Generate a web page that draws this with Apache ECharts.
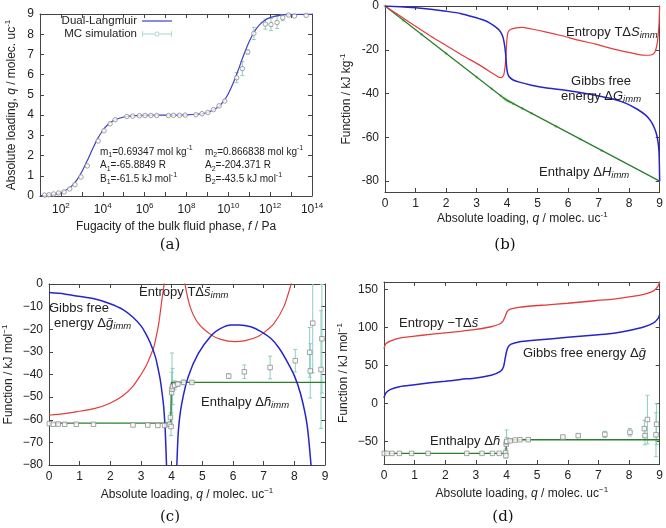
<!DOCTYPE html>
<html>
<head>
<meta charset="utf-8">
<script src="https://cdn.jsdelivr.net/npm/echarts@6/dist/echarts.min.js"></script>
<style>
html, body { margin: 0; padding: 0; background: #fff; }
#chart { width: 666px; height: 528px; }
</style>
</head>
<body>
<div id="chart"></div>
<script>
// ---- (a) isotherm: log10(f) and loading q ----
const aCurveExp = [1, 1.5, 2, 2.5, 2.75, 3, 3.25, 3.5, 3.75, 4, 4.25, 4.5, 5, 5.5, 6, 7, 8, 8.5, 9, 9.5, 9.75, 10, 10.25, 10.5, 10.75, 11, 11.25, 11.5, 11.75, 12, 12.5, 13, 14];
const aCurveQ = [0.017, 0.053, 0.164, 0.475, 0.774, 1.196, 1.726, 2.297, 2.823, 3.24, 3.535, 3.724, 3.908, 3.97, 3.991, 3.999, 4.013, 4.042, 4.131, 4.392, 4.657, 5.06, 5.62, 6.3, 7.01, 7.645, 8.136, 8.474, 8.69, 8.82, 8.942, 8.981, 8.998];
const aSimExp = [1.22, 1.43, 1.65, 1.89, 2.15, 2.42, 2.67, 2.96, 3.26, 3.78, 4.06, 4.35, 4.59, 5.15, 5.43, 5.75, 6.02, 6.3, 6.58, 7.14, 7.38, 7.67, 7.94, 8.45, 8.74, 9.02, 9.29, 9.56, 9.83, 10.4, 10.67, 10.93, 11.22, 11.77, 12.04, 12.33, 12.6, 12.88, 13.16, 13.72, 13.97];
const aSimQ = [0.045, 0.06, 0.1, 0.15, 0.2, 0.35, 0.56, 0.94, 1.49, 2.72, 3.23, 3.57, 3.77, 3.93, 3.95, 3.97, 3.98, 3.98, 3.98, 3.98, 3.99, 3.99, 4.0, 4.02, 4.07, 4.13, 4.27, 4.46, 4.7, 5.85, 6.3, 7.12, 8.04, 8.5, 8.48, 8.58, 8.82, 8.95, 8.9, 8.93, 9.08];
const aSimErr = [0, 0, 0, 0, 0, 0, 0, 0, 0, 0, 0, 0, 0, 0, 0, 0, 0, 0, 0, 0, 0, 0, 0, 0, 0, 0, 0, 0, 0, 0.25, 0.35, 0.1, 0.3, 0.25, 0.3, 0.3, 0.15, 0.05, 0, 0, 0];
const aXLabels = [1e2, 1e4, 1e6, 1e8, 1e10, 1e12, 1e14];
const aXTicks = [1e1, 1e2, 1e3, 1e4, 1e5, 1e6, 1e7, 1e8, 1e9, 1e10, 1e11, 1e12, 1e13, 1e14];

// ---- (b) integral functions, kJ/kg ----
const bGQ = [0, 0.5, 1, 1.5, 2, 2.5, 2.9, 3.2, 3.41, 3.6, 3.74, 3.83, 3.88, 3.93, 3.96, 3.98, 4.0, 4.03, 4.08, 4.2, 4.4, 4.8, 5.25, 5.8, 6.34, 6.9, 7.41, 7.9, 8.28, 8.55, 8.71, 8.82, 8.9, 8.95, 8.98, 9.0];
const bG = [0, -0.3, -0.8, -1.5, -2.4, -3.5, -5, -6.3, -7.6, -9.3, -11, -13, -15, -19, -23, -27, -29.5, -31.3, -32.5, -33.8, -34.8, -36.2, -37.4, -38.3, -39.4, -40.8, -42.3, -44.5, -47.3, -50, -52.6, -55.5, -58.7, -62.5, -67, -80];
const bSQ = [0, 0.5, 1, 1.5, 2, 2.5, 3.09, 3.52, 3.7, 3.79, 3.85, 3.9, 3.94, 3.97, 4.0, 4.04, 4.12, 4.3, 4.49, 4.8, 5.25, 5.8, 6.33, 6.9, 7.41, 7.9, 8.28, 8.55, 8.71, 8.82, 8.87, 8.92, 8.95, 8.98, 9.0];
const bS = [0, -4.6, -9.3, -13.8, -18, -22.3, -26.9, -30.7, -32.3, -32.7, -32.4, -31, -27, -20.9, -14.5, -11.8, -10.6, -10, -9.8, -10.5, -11.8, -13.6, -15.6, -17.4, -19.4, -21, -22.1, -22.5, -22.4, -21.5, -20.1, -17, -13.3, -8, 0];
const bHQ = [0, 3.95, 4.05, 9];
const bH = [0, -42.7, -43.5, -80];
const bMarkQ = [0, 0.6, 1.2, 2.0, 3.0, 3.5, 3.8, 3.9, 3.95, 4.0, 4.05, 4.1, 4.2, 4.5, 4.8, 5.6, 6.4, 7.1];
const bMarkH = [0, -6.5, -13, -21.6, -32.4, -37.8, -41, -42.1, -42.6, -43.2, -43.5, -43.9, -44.6, -46.8, -49, -54.9, -60.8, -66];
const bYLabels = [0, -20, -40, -60, -80];

// ---- (c) partial molar functions ----
const cG1Q = [0, 0.5, 0.89, 1.5, 1.97, 2.4, 2.72, 3.0, 3.15, 3.3, 3.47, 3.55, 3.63, 3.7, 3.74, 3.79, 3.83, 3.86];
const cG1 = [-3.8, -4.4, -5.3, -6.6, -8.6, -11.2, -14.5, -18.5, -21.8, -26, -32.2, -37, -42.5, -49.5, -54.3, -64.6, -79.4, -90];
const cG2Q = [4.14, 4.17, 4.22, 4.33, 4.54, 4.87, 5.3, 5.6, 5.94, 6.2, 6.58, 6.9, 7.23, 7.5, 7.77, 8.0, 8.2, 8.41, 8.54, 8.58];
const cG2 = [-90, -79.4, -64.6, -52.8, -41, -30.7, -22.6, -19.6, -18.1, -18.1, -18.9, -20.9, -24, -28.3, -34.4, -40.5, -48.4, -61.7, -79.4, -90];
const cS1Q = [0, 0.5, 0.89, 1.5, 1.97, 2.4, 2.72, 3.0, 3.15, 3.3, 3.42, 3.5, 3.58, 3.68, 3.76, 3.8];
const cS1 = [-58, -57.3, -56.5, -55, -52.8, -49.5, -45.5, -40, -36.6, -32, -27.8, -23, -17.4, -7.1, 0.3, 5];
const cS2Q = [4.4, 4.43, 4.6, 4.87, 5.3, 5.6, 6.05, 6.4, 6.8, 7.1, 7.34, 7.66, 7.87, 7.95];
const cS2 = [5, 0.3, -10, -17.4, -22.6, -24.5, -25.5, -25, -23.3, -20.5, -17.4, -10, -1.2, 3];
const cHQ = [0, 3.97, 3.99, 9];
const cH = [-61.5, -61.5, -43.5, -43.5];
const cPtQ = [0.01, 0.14, 0.3, 0.51, 0.89, 1.45, 2.74, 3.22, 3.55, 3.77, 3.93, 3.96, 3.98, 4.0, 4.01, 4.03, 4.1, 4.2, 4.39, 4.66, 5.86, 6.37, 7.21, 8.03, 8.5, 8.52, 8.6, 8.87, 8.9];
const cPtV = [-61.7, -62, -61.9, -62, -62, -62, -62.3, -62.3, -62.5, -62.5, -62, -59, -63, -48, -46.5, -45.3, -44.8, -44.2, -43.5, -43.5, -40.7, -38.8, -36.9, -33.9, -30.2, -38.4, -17.3, -37.8, -24.2];
const cPtErr = [0, 0, 0, 0, 0, 0, 0, 0, 0, 0, 1, 2, 4, 9, 16, 8, 2, 1, 1, 0.5, 1, 3, 5, 5, 11, 12, 22, 26, 24];

// ---- (d) partial molar functions ----
const dGQ = [0, 0.05, 0.2, 0.5, 1, 1.5, 2, 2.5, 3, 3.5, 3.8, 3.9, 3.95, 4.0, 4.05, 4.15, 4.4, 5, 6, 7, 7.5, 8, 8.5, 8.8, 8.95, 9];
const dG = [7, 13, 18, 22, 24.5, 27, 29, 31.5, 33.5, 37, 42, 48, 58, 68, 74, 78, 81, 83.5, 87, 90.5, 92.5, 96, 101, 106, 112, 117];
const dSQ = [0, 0.05, 0.2, 0.5, 1, 1.5, 2, 2.5, 3, 3.5, 3.76, 3.88, 3.95, 4.02, 4.1, 4.4, 5, 5.26, 6, 6.88, 7.5, 8.28, 8.6, 8.82, 8.95, 9];
const dS = [72, 78, 82, 86, 88.5, 91, 93, 95, 97.5, 101, 104.3, 108, 114, 121, 124, 126.5, 129, 129.6, 132, 135.3, 137.5, 142, 145, 148.7, 155, 160];
const dHQ = [0, 3.98, 4.0, 9];
const dH = [-66, -66, -48, -48];
const dPtQ = [0.01, 0.1, 0.26, 0.5, 0.9, 1.44, 2.7, 3.2, 3.54, 3.76, 3.97, 3.98, 3.99, 4.0, 4.01, 4.12, 4.28, 4.44, 4.71, 5.84, 6.34, 7.21, 8.03, 8.5, 8.52, 8.6, 8.88, 8.9];
const dPtV = [-66, -66, -66, -66, -66, -66, -66, -66, -66, -66, -65, -69, -54, -51, -50, -49.3, -48.4, -48, -48, -44.4, -42.6, -40.9, -38.2, -33.3, -42.6, -21.4, -41.4, -27.6];
const dPtErr = [0, 0, 0, 0, 0, 0, 0, 0, 0, 0, 2, 3, 6, 16, 5, 1, 0.5, 0.5, 0.5, 1, 2, 4, 5, 11, 12, 32, 29, 27];
const dYLabels = [-50, 0, 50, 100, 150];

const FONT = 'Liberation Sans, Arial, sans-serif';
const AXIS_COLOR = '#444';
const TEXT_COLOR = '#222';
const BLUE = '#2525c8';
const RED = '#e23c3c';
const GREEN = '#2b7f2b';
const ERR = '#8ccfc2';

const NAME_RICH = {
  i: { fontStyle: 'italic', fontSize: 12, fontFamily: FONT, color: TEXT_COLOR },
  sup: { fontSize: 8, fontFamily: FONT, color: TEXT_COLOR, lineHeight: 9, verticalAlign: 'top' }
};
const zip = (xs, ys) => xs.map((x, i) => [x, ys[i]]);
const zip3 = (xs, ys, es) => xs.map((x, i) => [x, ys[i], es[i]]);
const minus = v => String(v).replace('-', '\u2212');

function mainAxis(grid, pos, cfg) {
  return {
    gridIndex: grid, position: pos, type: cfg.type || 'value',
    min: cfg.min, max: cfg.max, interval: cfg.interval, logBase: cfg.logBase,
    name: cfg.name, nameLocation: 'middle', nameGap: cfg.nameGap,
    nameTextStyle: { fontSize: 12, fontFamily: FONT, color: TEXT_COLOR, lineHeight: 16, rich: NAME_RICH },
    axisLine: { show: true, onZero: false, lineStyle: { color: AXIS_COLOR, width: 1 } },
    axisTick: Object.assign({ show: true, inside: true, length: 4, lineStyle: { color: AXIS_COLOR } }, cfg.tick),
    axisLabel: Object.assign({ show: true, color: TEXT_COLOR, fontSize: 12, fontFamily: FONT, margin: 6 }, cfg.label),
    splitLine: { show: false }
  };
}
function mirrorAxis(grid, pos, cfg) {
  return {
    gridIndex: grid, position: pos, type: cfg.type || 'value',
    min: cfg.min, max: cfg.max, interval: cfg.interval, logBase: cfg.logBase,
    axisLine: { show: true, onZero: false, lineStyle: { color: AXIS_COLOR, width: 1 } },
    axisTick: Object.assign({ show: true, inside: true, length: 4, lineStyle: { color: AXIS_COLOR } }, cfg.tick),
    axisLabel: { show: false },
    splitLine: { show: false }
  };
}

const loadingName = 'Absolute loading, {i|q} / molec. uc{sup|-1}';
const loadingName2 = 'Absolute loading, {i|q} / molec. uc{sup|\u22121}';

const ax = {
  a: { type: 'log', logBase: 10, min: 1e1, max: 1e14, name: 'Fugacity of the bulk fluid phase, {i|f} / Pa', nameGap: 19,
       label: { customValues: aXLabels, formatter: v => '10{s|' + Math.round(Math.log10(v)) + '}',
                rich: { s: { fontSize: 8, fontFamily: FONT, color: TEXT_COLOR, lineHeight: 9, verticalAlign: 'top' } }, lineHeight: 16 },
       tick: { customValues: aXTicks } },
  ay: { min: 0, max: 9, interval: 1, name: 'Absolute loading, {i|q} / molec. uc{sup|-1}', nameGap: 20 },
  b: { min: 0, max: 9, interval: 1, name: loadingName, nameGap: 11 },
  by: { min: -85, max: 0, name: 'Function / kJ kg{sup|-1}', nameGap: 30,
        label: { customValues: bYLabels }, tick: { customValues: bYLabels } },
  c: { min: 0, max: 9, interval: 1, name: loadingName2, nameGap: 22 },
  cy: { min: -80, max: 0, interval: 10, name: 'Function / kJ mol{sup|\u22121}', nameGap: 32, label: { formatter: minus } },
  d: { min: 0, max: 9, interval: 1, name: loadingName2, nameGap: 22 },
  dy: { min: -80, max: 160, name: 'Function / kJ mol{sup|\u22121}', nameGap: 32,
        label: { customValues: dYLabels, formatter: minus }, tick: { customValues: dYLabels } }
};

const xAxes = [
  mainAxis(0, 'bottom', ax.a), mirrorAxis(0, 'top', ax.a),
  mainAxis(1, 'bottom', ax.b), mirrorAxis(1, 'top', ax.b),
  mainAxis(2, 'bottom', ax.c), mirrorAxis(2, 'top', ax.c),
  mainAxis(3, 'bottom', ax.d), mirrorAxis(3, 'top', ax.d)
];
const yAxes = [
  mainAxis(0, 'left', ax.ay), mirrorAxis(0, 'right', ax.ay),
  mainAxis(1, 'left', ax.by), mirrorAxis(1, 'right', ax.by),
  mainAxis(2, 'left', ax.cy), mirrorAxis(2, 'right', ax.cy),
  mainAxis(3, 'left', ax.dy), mirrorAxis(3, 'right', ax.dy)
];

function errorBars(params, api) {
  const e = api.value(2);
  if (!e) return null;
  const x = api.value(0), y = api.value(1);
  const p1 = api.coord([x, y + e]);
  const p2 = api.coord([x, y - e]);
  const style = { stroke: api.visual('color'), lineWidth: 1 };
  return {
    type: 'group',
    children: [
      { type: 'line', shape: { x1: p1[0], y1: p1[1], x2: p2[0], y2: p2[1] }, style },
      { type: 'line', shape: { x1: p1[0] - 2, y1: p1[1], x2: p1[0] + 2, y2: p1[1] }, style },
      { type: 'line', shape: { x1: p2[0] - 2, y1: p2[1], x2: p2[0] + 2, y2: p2[1] }, style }
    ]
  };
}

function curve(panel, data, color, width, smooth) {
  return {
    type: 'line', xAxisIndex: panel * 2, yAxisIndex: panel * 2, data,
    showSymbol: false, symbol: 'none', smooth: smooth === undefined ? 0.25 : smooth,
    lineStyle: { color, width }, itemStyle: { color },
    silent: true, z: 3
  };
}
function errSeries(panel, data) {
  return {
    type: 'custom', xAxisIndex: panel * 2, yAxisIndex: panel * 2, data,
    renderItem: errorBars, encode: { x: 0, y: 1 }, clip: true,
    itemStyle: { color: ERR }, silent: true, z: 2
  };
}
function pointSeries(panel, data, symbol, size, name) {
  return {
    type: 'scatter', name, xAxisIndex: panel * 2, yAxisIndex: panel * 2, data,
    symbol, symbolSize: size,
    itemStyle: { color: '#fff', borderColor: '#8c8c8c', borderWidth: 1 },
    silent: true, z: 4
  };
}

const aCurveData = aCurveExp.map((e, i) => [Math.pow(10, e), aCurveQ[i]]);
const aSimData = aSimExp.map((e, i) => [Math.pow(10, e), aSimQ[i], aSimErr[i]]);

const series = [
  Object.assign(curve(0, aCurveData, '#3f3fc6', 1.2, 0.35), { name: 'Dual-Langmuir' }),
  errSeries(0, aSimData),
  pointSeries(0, aSimData.map(d => [d[0], d[1]]), 'circle', 4.5, 'MC simulation'),

  {
    type: 'scatter', xAxisIndex: 2, yAxisIndex: 2, data: zip(bMarkQ, bMarkH),
    symbol: 'circle', symbolSize: 3, itemStyle: { color: '#86d086' }, silent: true, z: 2
  },
  curve(1, zip(bHQ, bH), GREEN, 1.3, false),
  curve(1, zip(bSQ, bS), RED, 1.2),
  curve(1, zip(bGQ, bG), BLUE, 1.5),

  errSeries(2, zip3(cPtQ, cPtV, cPtErr)),
  curve(2, zip(cHQ, cH), GREEN, 1.3, false),
  pointSeries(2, zip(cPtQ, cPtV), 'rect', 4.5),
  curve(2, zip(cS1Q, cS1), RED, 1.2),
  curve(2, zip(cS2Q, cS2), RED, 1.2),
  curve(2, zip(cG1Q, cG1), BLUE, 1.5),
  curve(2, zip(cG2Q, cG2), BLUE, 1.5),

  errSeries(3, zip3(dPtQ, dPtV, dPtErr)),
  curve(3, zip(dHQ, dH), GREEN, 1.3, false),
  pointSeries(3, zip(dPtQ, dPtV), 'rect', 4.5),
  curve(3, zip(dSQ, dS), RED, 1.3),
  curve(3, zip(dGQ, dG), BLUE, 1.5)
];

// in-plot labels
const LABEL_RICH = {
  i: { fontStyle: 'italic', fontSize: 13, fontFamily: FONT, fill: TEXT_COLOR, lineHeight: 17 },
  sub: { fontStyle: 'italic', fontSize: 9.5, fontFamily: FONT, fill: TEXT_COLOR, lineHeight: 10, verticalAlign: 'bottom' }
};
const SMALL_RICH = {
  sb: { fontSize: 7, fontFamily: FONT, fill: TEXT_COLOR, lineHeight: 8, verticalAlign: 'bottom' },
  sp: { fontSize: 7, fontFamily: FONT, fill: TEXT_COLOR, lineHeight: 8, verticalAlign: 'top' }
};
function txt(x, y, text, align) {
  return {
    type: 'text', x, y, silent: true, z: 10,
    style: { text, fontSize: 13, fontFamily: FONT, fill: TEXT_COLOR, lineHeight: 17,
             align: align || 'left', verticalAlign: 'middle', rich: LABEL_RICH }
  };
}
function small(x, y, text) {
  return {
    type: 'text', x, y, silent: true, z: 10,
    style: { text, fontSize: 10, fontFamily: FONT, fill: TEXT_COLOR, lineHeight: 14,
             align: 'left', verticalAlign: 'middle', rich: SMALL_RICH }
  };
}
function caption(x, y, text) {
  return {
    type: 'text', x, y, silent: true,
    style: { text, fontSize: 15, fontFamily: 'DejaVu Serif, Liberation Serif, serif', fill: '#111',
             align: 'center', verticalAlign: 'middle' }
  };
}
const graphics = [
  small(100, 152, 'm{sb|1}=0.69347 mol kg{sp|-1}'),
  small(100, 165.5, 'A{sb|1}=-65.8849 R'),
  small(100, 179, 'B{sb|1}=-61.5 kJ mol{sp|-1}'),
  small(205, 152, 'm{sb|2}=0.866838 mol kg{sp|-1}'),
  small(205, 165.5, 'A{sb|2}=-204.371 R'),
  small(205, 179, 'B{sb|2}=-43.5 kJ mol{sp|-1}'),

  txt(566, 32, 'Entropy T\u0394{i|S}{sub|imm}'),
  txt(601, 81, 'Gibbs free', 'center'),
  txt(601, 96, 'energy \u0394{i|G}{sub|imm}', 'center'),
  txt(539, 172, 'Enthalpy \u0394{i|H}{sub|imm}'),

  txt(139, 292, 'Entropy T\u0394{i|s\u0304}{sub|imm}'),
  txt(49, 308, 'Gibbs free'),
  txt(54, 323, 'energy \u0394{i|g\u0304}{sub|imm}'),
  txt(201, 402, 'Enthalpy \u0394{i|h\u0304}{sub|imm}'),

  txt(399, 323, 'Entropy \u2212T\u0394{i|s\u0304}'),
  txt(523, 353, 'Gibbs free energy \u0394{i|g\u0304}'),
  txt(430, 441, 'Enthalpy \u0394{i|h\u0304}'),

  caption(170, 245, '(a)'),
  caption(505, 245, '(b)'),
  caption(170, 517, '(c)'),
  caption(503, 517, '(d)')
];

const legendText = { fontSize: 11.5, fontFamily: FONT, color: TEXT_COLOR };
const option = {
  backgroundColor: '#fff',
  animation: false,
  grid: [
    { left: 40, top: 14, width: 272, height: 182 },
    { left: 385, top: 4, width: 277, height: 188 },
    { left: 46, top: 284, width: 279, height: 181 },
    { left: 384, top: 282, width: 278, height: 182 }
  ],
  legend: [
    { data: [{ name: 'Dual-Langmuir', icon: 'path://M0,3.4h30v1.2h-30z', itemStyle: { color: '#3f3fc6', borderWidth: 0 } }],
      selectedMode: false, align: 'right', right: 494, top: 15,
      itemWidth: 30, itemHeight: 8, padding: 0, textStyle: legendText },
    { data: [{ name: 'MC simulation',
               icon: 'path://M0,3.6h12.4v0.8h-12.4z M17.6,3.6h12.4v0.8h-12.4z M0,1h0.8v6h-0.8z M29.2,1h0.8v6h-0.8z M17.5,4a2.5,2.5 0 1 0 -5,0a2.5,2.5 0 1 0 5,0z M16.7,4a1.7,1.7 0 1 1 -3.4,0a1.7,1.7 0 1 1 3.4,0z',
               itemStyle: { color: '#8fc9c2', borderWidth: 0 } }],
      selectedMode: false, align: 'right', right: 494, top: 28,
      itemWidth: 30, itemHeight: 8, padding: 0, textStyle: legendText }
  ],
  xAxis: xAxes,
  yAxis: yAxes,
  series,
  graphic: graphics
};

const chart = echarts.init(document.getElementById('chart'), null, { renderer: 'canvas' });
chart.setOption(option);
window.addEventListener('resize', () => chart.resize());
</script>
</body>
</html>
